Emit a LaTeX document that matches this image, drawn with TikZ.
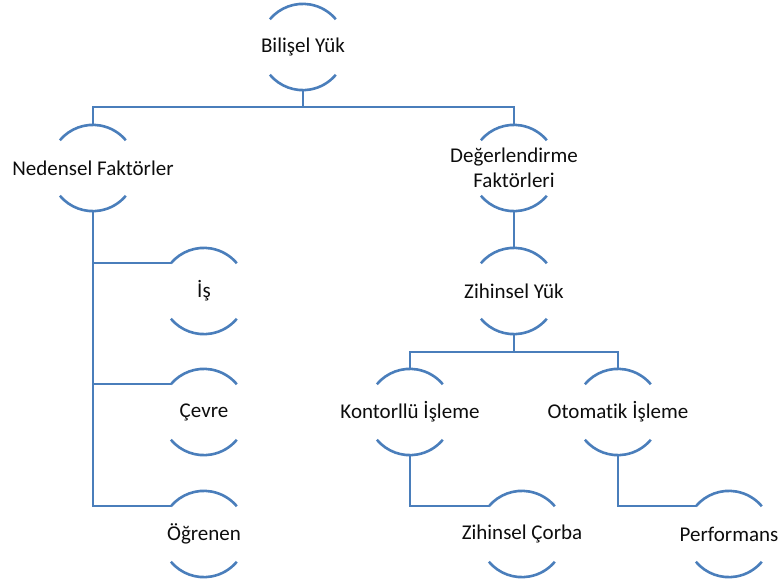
\documentclass[tikz,border=0pt]{standalone}
\usepackage{fontspec}
\setmainfont{Carlito}[Ligatures=NoCommon]
\usepackage{tikz}
\usetikzlibrary{positioning}
\definecolor{HBlue}{HTML}{4A7EBB}
\definecolor{HText}{HTML}{0D0D0D}

\tikzset{
  bubble/.style={circle, minimum size=86pt, inner sep=0pt,
    label={[bubbletext]center:#1}},
  bubbletext/.style={align=center, font=\fontsize{21}{25}\selectfont,
    text=HText, inner sep=0pt},
  ring/.style={draw=HBlue, line width=2.6pt},
  link/.style={draw=HBlue, line width=2.4pt}
}

\begin{document}
\begin{tikzpicture}[x=1pt,y=-1pt]
\useasboundingbox (0,0) rectangle (780,582);
% nodes
\node[bubble={Bilişel Yük}] (bil) at (303,47) {};
\node[bubble={Nedensel Faktörler}] (ned) at (93,168) {};
\node[bubble={Değerlendirme\\Faktörleri}] (deg) at (514,168) {};
\node[bubble={İş}] (is) at (204,291) {};
\node[bubble={Çevre}] (cev) at (204,412) {};
\node[bubble={Öğrenen}] (ogr) at (204,534) {};
\node[bubble={Zihinsel Yük}] (zih) at (514,291) {};
\node[bubble={Kontorllü İşleme}] (kon) at (410,412) {};
\node[bubble={Otomatik İşleme}] (oto) at (618,412) {};
\node[bubble={Zihinsel Çorba}] (cor) at (522,534) {};
\node[bubble={Performans}] (per) at (729,534) {};
% arcs round every node
\foreach \n in {bil,ned,deg,is,cev,ogr,zih,kon,oto,cor,per}{
  \draw[ring] (\n.140) arc[start angle=140, end angle=40, radius=43pt];
  \draw[ring] (\n.220) arc[start angle=220, end angle=320, radius=43pt];
}
% connectors
\draw[link] (bil.south) -- ++(0,17) -| (ned.north);
\draw[link] (bil.south) -- ++(0,17) -| (deg.north);
\draw[link] (ned.south) |- (is.140);
\draw[link] (ned.south) |- (cev.140);
\draw[link] (ned.south) |- (ogr.140);
\draw[link] (deg.south) -- (zih.north);
\draw[link] (zih.south) -- ++(0,18) -| (kon.north);
\draw[link] (zih.south) -- ++(0,18) -| (oto.north);
\draw[link] (kon.south) |- (cor.140);
\draw[link] (oto.south) |- (per.140);
\end{tikzpicture}
\end{document}
